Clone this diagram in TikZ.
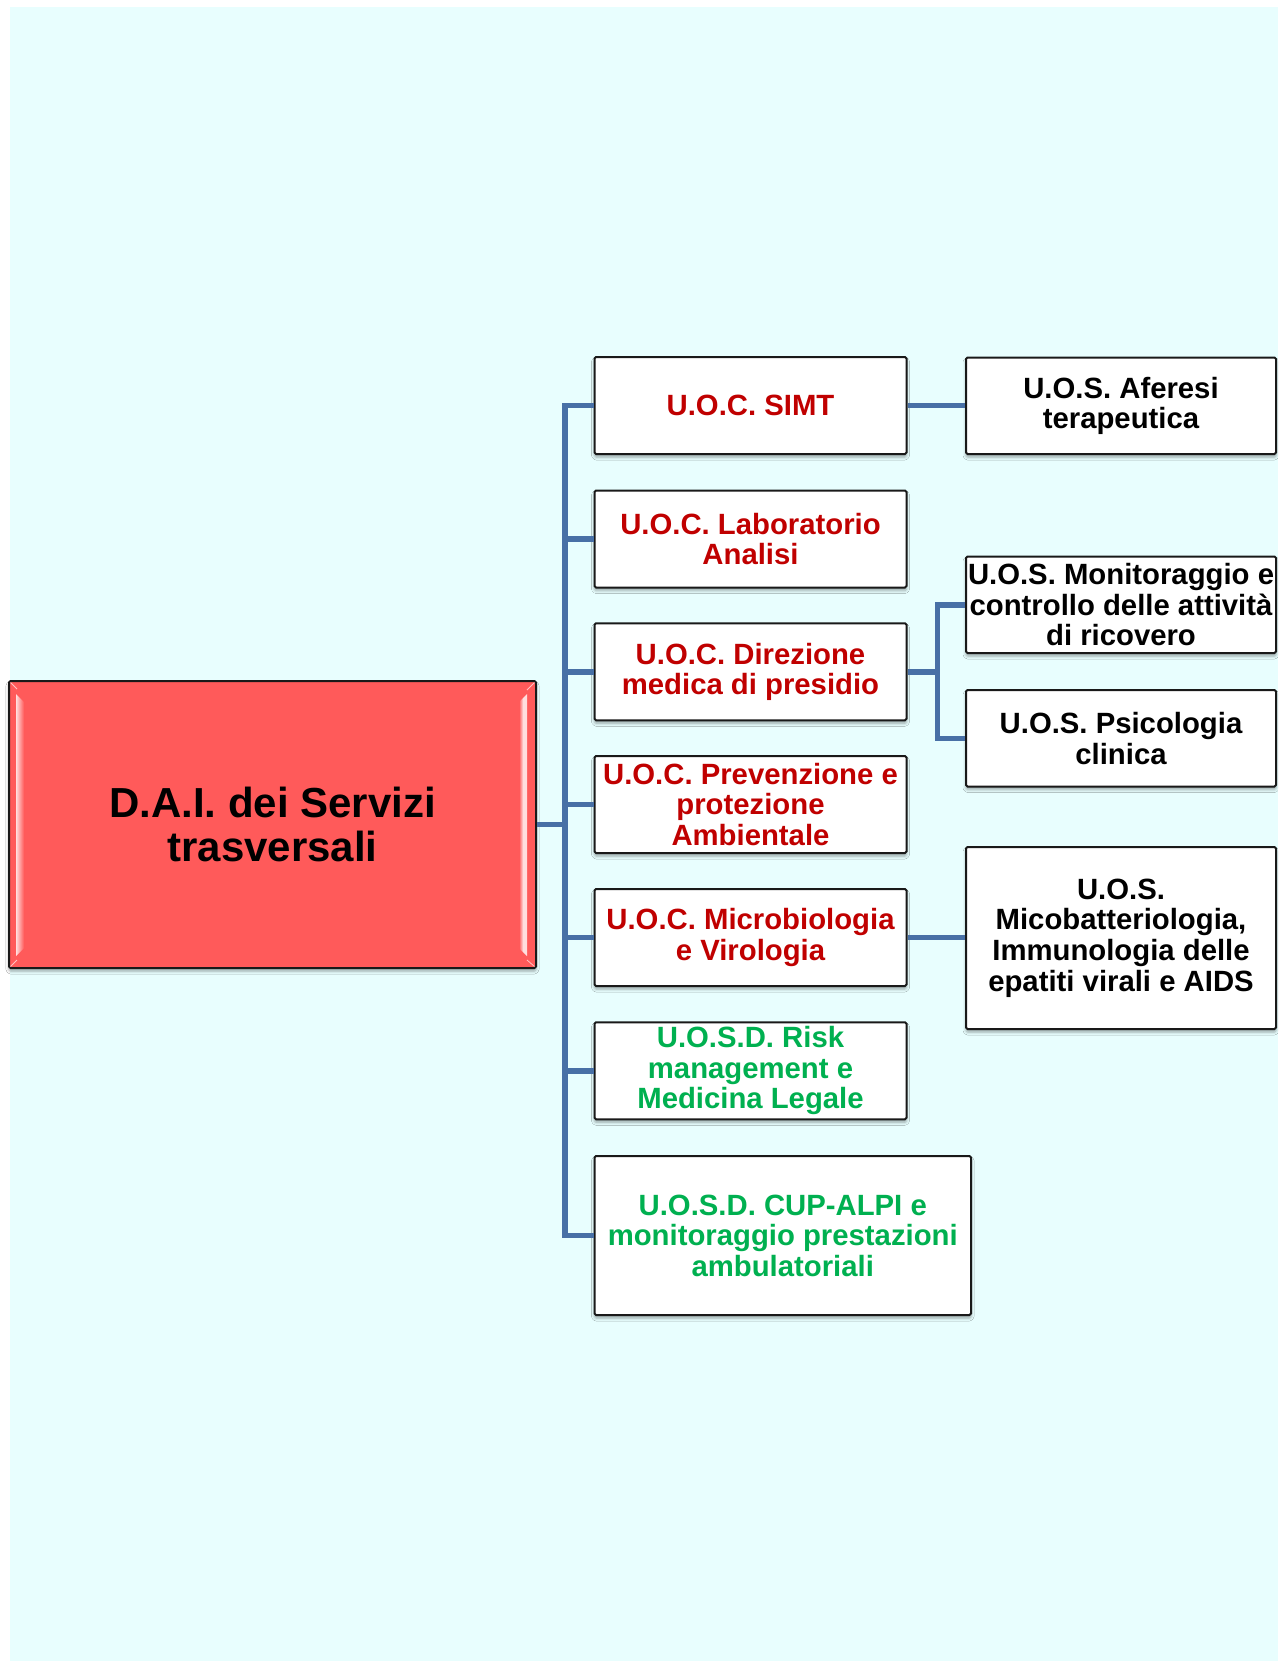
\documentclass[tikz,border=0pt]{standalone}
\usepackage{fontspec}
\setmainfont{Liberation Sans}
\usetikzlibrary{shadows.blur}
\definecolor{bgcyan}{RGB}{232,254,254}
\definecolor{mainred}{RGB}{255,90,90}
\definecolor{bevel}{RGB}{255,222,222}
\definecolor{connblue}{RGB}{72,112,166}
\definecolor{txtred}{RGB}{192,0,0}
\definecolor{txtgreen}{RGB}{0,176,80}
\definecolor{boxline}{RGB}{25,25,25}
\tikzset{
  unitbox/.style={draw=boxline, line width=2pt, fill=white, rounded corners=1.5pt,
    inner sep=0pt, align=center,
    font=\fontsize{29.3}{30.6}\selectfont\bfseries,
    blur shadow={shadow xshift=0pt, shadow yshift=-3pt, shadow blur radius=3pt, shadow opacity=35}},
  midbox/.style={unitbox, minimum width=312pt, minimum height=97pt},
  rbox/.style={unitbox, text=black, minimum width=310pt},
  red text/.style={text=txtred},
  green text/.style={text=txtgreen},
  conn/.style={draw=connblue, line width=5.5pt},
}
\begin{document}
\begin{tikzpicture}[x=1pt,y=-1pt]
\useasboundingbox (0,0) rectangle (1278,1662);
\fill[white] (0,0) rectangle (1278,1662);
\fill[bgcyan] (10,7) rectangle (1278,1661);

% main box
\node[draw=boxline, line width=2pt, fill=mainred, rounded corners=1.5pt,
      minimum width=527pt, minimum height=287pt, inner sep=0pt, align=center,
      font=\fontsize{42}{43.5}\selectfont\bfseries,
      blur shadow={shadow xshift=0pt, shadow yshift=-3pt, shadow blur radius=3pt, shadow opacity=35}]
  (main) at (272.5,824.5) {};
\shade[left color=bevel, right color=mainred] (16,694) -- (24,702) -- (24,948) -- (16,956) -- cycle;
\shade[left color=mainred, right color=bevel, middle color=bevel] (519,702) -- (527,694) -- (527,956) -- (519,948) -- cycle;
\draw[bevel, line width=0.8pt, opacity=0.8] (10.5,682.5) -- (17,689);
\draw[bevel, line width=0.8pt, opacity=0.8] (534.5,682.5) -- (527,690);
\draw[bevel, line width=0.8pt, opacity=0.8] (10.5,966.5) -- (17,960);
\draw[bevel, line width=0.8pt, opacity=0.8] (534.5,966.5) -- (527,960);
\node[align=center, font=\fontsize{42}{43.5}\selectfont\bfseries, text=black] (maintxt) at (main.center) {D.A.I. dei Servizi\\trasversali};

% middle column
\node[midbox, red text] (simt) at (750.5,405.5) {U.O.C. SIMT};
\node[midbox, red text] (lab) at (750.5,539) {U.O.C. Laboratorio\\Analisi};
\node[midbox, red text] (dir) at (750.5,671.75) {U.O.C. Direzione\\medica di presidio};
\node[midbox, red text] (prev) at (750.5,804.5) {U.O.C. Prevenzione e\\protezione\\Ambientale};
\node[midbox, red text] (micro) at (750.5,937.5) {U.O.C. Microbiologia\\e Virologia};
\node[midbox, green text] (risk) at (750.5,1070.75) {U.O.S.D. Risk\\management e\\Medicina Legale};
\node[unitbox, green text, minimum width=376.5pt, minimum height=159pt] (cup) at (782.75,1235.5) {U.O.S.D. CUP-ALPI e\\monitoraggio prestazioni\\ambulatoriali};

% right column
\node[rbox, minimum height=96.5pt] (afe) at (1121,405.75) {U.O.S. Aferesi\\terapeutica};
\node[rbox, minimum height=96.5pt] (mon) at (1121,604.75) {U.O.S. Monitoraggio e\\controllo delle attività\\di ricovero};
\node[rbox, minimum height=96.5pt] (psi) at (1121,738.25) {U.O.S. Psicologia\\clinica};
\node[rbox, minimum height=182pt] (mico) at (1121,938) {U.O.S.\\Micobatteriologia,\\Immunologia delle\\epatiti virali e AIDS};

% connectors
\coordinate (bus) at (565,824.5);
\coordinate (dj) at (937.5,671.75);
\draw[conn] (main.east) -- (bus);
\draw[conn] (bus) |- (simt.west);
\draw[conn] (bus) |- (lab.west);
\draw[conn] (bus) |- (dir.west);
\draw[conn] (bus) |- (prev.west);
\draw[conn] (bus) |- (micro.west);
\draw[conn] (bus) |- (risk.west);
\draw[conn] (bus) |- (cup.west);
\draw[conn] (simt.east) -- (simt.east -| afe.west);
\draw[conn] (micro.east) -- (micro.east -| mico.west);
\draw[conn] (dir.east) -- (dj);
\draw[conn] (dj) |- (mon.west);
\draw[conn] (dj) |- (psi.west);
\end{tikzpicture}
\end{document}
